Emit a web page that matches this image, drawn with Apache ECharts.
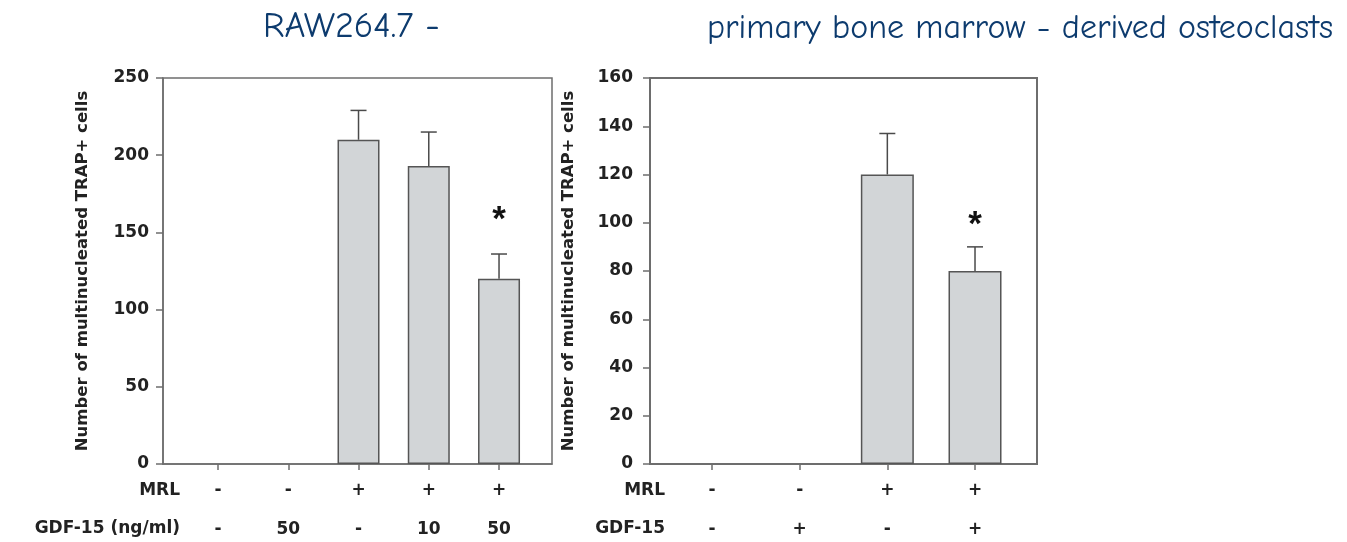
<!DOCTYPE html>
<html>
<head>
<meta charset="utf-8">
<script src="https://cdn.jsdelivr.net/npm/echarts@6/dist/echarts.min.js"></script>
<style>
  html, body { margin: 0; padding: 0; background: #fff; }
  #main { width: 1347px; height: 542px; }
</style>
</head>
<body>
<div id="main"></div>
<script>
(() => {
  const chart = echarts.init(document.getElementById('main'));

  // RAW264.7 panel
  const rawMRL = ['-', '-', '+', '+', '+'];
  const rawGDF = ['-', '50', '-', '10', '50'];
  const rawMean = [0, 0, 210, 193, 120];
  const rawErr = [0, 0, 19, 22, 16];
  const rawStar = [0, 0, 0, 0, 1];

  // primary bone marrow panel
  const bmMRL = ['-', '-', '+', '+'];
  const bmGDF = ['-', '+', '-', '+'];
  const bmMean = [0, 0, 120, 80];
  const bmErr = [0, 0, 17, 10];
  const bmStar = [0, 0, 0, 1];

  const titleColor = '#0d3b6e';
  const axisColor = '#6e6e6e';
  const textColor = '#222';
  const font = 'DejaVu Sans, Arial, sans-serif';
  const titleFont = 'Comic Sans MS, Comic Neue, DejaVu Sans, sans-serif';

  const toBars = mean => mean.map((v, i) => (v > 0 ? [i, v] : [i, '-']));
  const toErr = (mean, err, star) =>
    mean.map((v, i) => [i, v, err[i], star[i]]).filter(d => d[1] > 0);

  const xAxisFor = (gridIndex, min, max, mrl, gdf) => ({
    type: 'value',
    gridIndex,
    min,
    max,
    splitLine: { show: false },
    axisLine: { onZero: false, lineStyle: { color: axisColor, width: 1.5 } },
    axisTick: {
      show: true,
      length: 6,
      customValues: mrl.map((_, i) => i),
      lineStyle: { color: axisColor, width: 1.5 }
    },
    axisLabel: {
      customValues: mrl.map((_, i) => i),
      formatter: v => mrl[Math.round(v)] + '\n' + gdf[Math.round(v)],
      color: textColor,
      fontFamily: font,
      fontWeight: 'bold',
      fontSize: 17,
      lineHeight: 39,
      margin: 7
    }
  });

  const yAxisFor = (gridIndex, max, interval, margin, nameGap) => ({
    type: 'value',
    gridIndex,
    min: 0,
    max,
    interval,
    name: 'Number of multinucleated TRAP+ cells',
    nameLocation: 'middle',
    nameGap,
    nameTextStyle: { color: textColor, fontFamily: font, fontWeight: 'bold', fontSize: 16.5 },
    splitLine: { show: false },
    axisLine: { show: true, onZero: false, lineStyle: { color: axisColor, width: 1.5 } },
    axisTick: { show: true, length: 7, lineStyle: { color: axisColor, width: 1.5 } },
    axisLabel: { color: textColor, fontFamily: font, fontWeight: 'bold', fontSize: 17, margin }
  });

  // 误差线 + 星号
  const errRender = (capHalf, starGap) => (params, api) => {
    const x = api.value(0);
    const y = api.value(1);
    const e = api.value(2);
    const base = api.coord([x, y]);
    const top = api.coord([x, y + e]);
    const style = { stroke: '#4a4a4a', lineWidth: 1.5 };
    const children = [
      { type: 'line', shape: { x1: base[0], y1: base[1], x2: top[0], y2: top[1] }, style },
      { type: 'line', shape: { x1: top[0] - capHalf, y1: top[1], x2: top[0] + capHalf, y2: top[1] }, style }
    ];
    if (api.value(3)) {
      children.push({
        type: 'text',
        x: top[0],
        y: top[1] - starGap,
        style: {
          text: '*',
          fill: '#111',
          font: 'bold 35px Liberation Sans, Arial, sans-serif',
          align: 'center',
          verticalAlign: 'middle'
        }
      });
    }
    return { type: 'group', children };
  };

  const barStyle = { color: '#d2d5d7', borderColor: '#555', borderWidth: 1.5 };

  const rowText = (right, top, text) => ({
    type: 'text',
    right,
    top,
    style: { text, fill: textColor, font: 'bold 17px ' + font, textAlign: 'right' }
  });

  const option = {
    animation: false,
    title: [
      {
        text: 'RAW264.7 -',
        left: 258,
        top: 4,
        textStyle: { color: titleColor, fontFamily: titleFont, fontWeight: 'normal', fontSize: 36 }
      },
      {
        text: 'primary bone marrow - derived osteoclasts',
        left: 702,
        top: 6,
        textStyle: { color: titleColor, fontFamily: titleFont, fontWeight: 'normal', fontSize: 34 }
      }
    ],
    grid: [
      {
        left: 163, top: 78, width: 389, height: 386,
        outerBoundsMode: 'none',
        show: true, borderColor: axisColor, borderWidth: 1.5
      },
      {
        left: 650, top: 78, width: 387, height: 386,
        outerBoundsMode: 'none',
        show: true, borderColor: axisColor, borderWidth: 2
      }
    ],
    xAxis: [
      xAxisFor(0, -0.783, 4.754, rawMRL, rawGDF),
      xAxisFor(1, -0.707, 3.707, bmMRL, bmGDF)
    ],
    yAxis: [
      yAxisFor(0, 250, 50, 14, 72),
      yAxisFor(1, 160, 20, 17, 73)
    ],
    graphic: [
      rowText(1347 - 180, 482, 'MRL'),
      rowText(1347 - 180, 520, 'GDF-15 (ng/ml)'),
      rowText(1347 - 665, 482, 'MRL'),
      rowText(1347 - 665, 520, 'GDF-15')
    ],
    series: [
      {
        type: 'bar',
        xAxisIndex: 0,
        yAxisIndex: 0,
        barWidth: 42,
        data: toBars(rawMean),
        itemStyle: barStyle
      },
      {
        type: 'custom',
        xAxisIndex: 0,
        yAxisIndex: 0,
        encode: { x: 0, y: 1 },
        renderItem: errRender(8, 34),
        data: toErr(rawMean, rawErr, rawStar),
        z: 5
      },
      {
        type: 'bar',
        xAxisIndex: 1,
        yAxisIndex: 1,
        barWidth: 53,
        data: toBars(bmMean),
        itemStyle: barStyle
      },
      {
        type: 'custom',
        xAxisIndex: 1,
        yAxisIndex: 1,
        encode: { x: 0, y: 1 },
        renderItem: errRender(8, 22),
        data: toErr(bmMean, bmErr, bmStar),
        z: 5
      }
    ]
  };

  chart.setOption(option);
})();
</script>
</body>
</html>
